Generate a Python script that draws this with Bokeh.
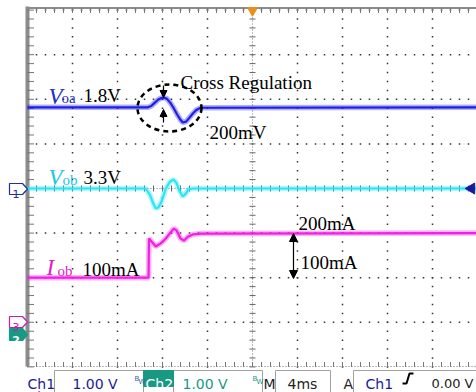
import numpy as np
from bokeh.plotting import figure
from bokeh.models import Label, Arrow, NormalHead, Range1d
from bokeh.embed import file_html
from bokeh.resources import INLINE

# ---------------- data (time in ms, 4 ms/div; vertical in divisions) ----------------
t_voa = [-20, -9.3, -9.0, -8.7, -8.4, -8.1, -7.9, -7.6, -7.3, -7.0, -6.7, -6.4, -6.2,
         -5.9, -5.6, -5.3, -5.0, -4.6, 19.9]
voa_div = [1.82, 1.82, 1.85, 1.92, 1.99, 2.03, 2.04, 2.01, 1.92, 1.80, 1.66, 1.54, 1.48,
           1.50, 1.59, 1.68, 1.76, 1.81, 1.82]

t_vob = [-20, -9.5, -9.1, -8.8, -8.6, -8.35, -8.1, -7.7, -7.35, -7.0, -6.75, -6.5, -6.2,
         -5.95, -5.7, -5.3, 19.9]
vob_div = [0, 0, -0.15, -0.35, -0.45, -0.42, -0.30, 0.0, 0.15, 0.20, 0.12, -0.05, -0.18,
           -0.12, -0.02, 0, 0]

t_iob = [-20, -9.24, -9.2, -8.6, -8.15, -7.7, -7.3, -7.0, -6.75, -6.4, -6.1, -5.75, -5.3,
         -4.6, 19.9]
iob_ma = [100, 100, 188, 170, 177, 188, 201, 210, 206, 188, 183, 192, 197, 199, 200]

CH3_OFFSET_DIV = -3.0
CH3_MA_PER_DIV = 100.0
iob_div = [CH3_OFFSET_DIV + v / CH3_MA_PER_DIV for v in iob_ma]

# ---------------- layout helpers (picture pixel -> data) ----------------
def X(px):
    return (px - 252) / 11.25

def Y(py):
    return (188 - py) / 44.6

W, H = 476, 392
p = figure(width=W, height=H, output_backend="svg", toolbar_location=None,
           x_range=Range1d(X(0), X(W)), y_range=Range1d(Y(H), Y(0)),
           min_border=0)
p.axis.visible = False
p.grid.visible = False
p.outline_line_color = None
p.background_fill_color = "white"

SERIF = "Liberation Serif"
SANS = "DejaVu Sans"

# ---------------- graticule ----------------
vx = np.arange(-16, 17, 4)
vx = vx[vx != 0]
vy = np.arange(-4, 4.001, 0.2)
gx, gy = np.meshgrid(vx, vy)
p.scatter(gx.ravel(), gy.ravel(), marker="square", size=1.5, fill_color="#333333", line_color=None)
hy = np.array([-3, -2, -1, 1, 2, 3, 4])
hx = np.arange(-20, 20.01, 0.8)
gx2, gy2 = np.meshgrid(hx, hy)
p.scatter(gx2.ravel(), gy2.ravel(), marker="square", size=1.5, fill_color="#333333", line_color=None)

# centre lines with ticks
p.segment(x0=[0], y0=[Y(366)], x1=[0], y1=[Y(8)], line_color="#777777", line_width=1, line_dash="1 2")
p.segment(x0=[X(27)], y0=[0], x1=[X(476)], y1=[0], line_color="#777777", line_width=1, line_dash="1 2")
p.scatter([0] * len(vy), vy, marker="dash", size=6, line_color="#666666", line_width=1)
p.scatter(hx, [0] * len(hx), marker="dash", size=6, angle=np.pi / 2, line_color="#666666", line_width=1)

# borders with ticks
p.segment(x0=[X(27)], y0=[Y(7.5)], x1=[X(476)], y1=[Y(7.5)], line_color="#8c8c8c", line_width=2)
p.scatter(hx, [Y(10)] * len(hx), marker="dash", size=5, angle=np.pi / 2, line_color="#777777")
p.segment(x0=[X(27)], y0=[Y(366)], x1=[X(476)], y1=[Y(366)], line_color="#777777", line_width=1, line_dash="1 2")
p.scatter(hx, [Y(364)] * len(hx), marker="dash", size=5, angle=np.pi / 2, line_color="#777777")
p.segment(x0=[X(27)], y0=[Y(366)], x1=[X(27)], y1=[Y(6)], line_color="#8c8c8c", line_width=4)
p.scatter([X(30)] * len(vy), vy, marker="dash", size=7, line_color="#777777")

# ---------------- traces ----------------
traces = [(t_voa, voa_div, "#1e1ee6"), (t_vob, vob_div, "#2ee4f2"), (t_iob, iob_div, "#f020e2")]
for tx, ty, col in traces:
    p.line(tx, ty, line_color=col, line_width=5.5, line_alpha=0.35)
    p.line(tx, ty, line_color=col, line_width=2.2)

# trigger marker and Ch1 level marker
p.scatter([0], [Y(10)], marker="inverted_triangle", size=10, fill_color="#e8901c", line_color="#e8901c")
p.scatter([X(471)], [Y(188)], marker="triangle", angle=np.pi / 2, size=11,
          fill_color="#1a1a9a", line_color="#1a1a9a")

# channel ground markers
def pent(y0, y1):
    ym = (y0 + y1) / 2
    xs = [X(9), X(22), X(27), X(22), X(9)]
    ys = [Y(y0), Y(y0), Y(ym), Y(y1), Y(y1)]
    return xs, ys

xs, ys = pent(183, 194)
p.patch(xs, ys, fill_color="white", line_color="#2030a0", line_width=1.2)
p.add_layout(Label(x=X(15.5), y=Y(193), text="1", text_font=SANS, text_font_size="11px",
                   text_color="#2030a0", text_align="center", text_baseline="alphabetic"))
xs, ys = pent(316, 327)
p.patch(xs, ys, fill_color="white", line_color="#c020b0", line_width=1.2)
p.add_layout(Label(x=X(15.5), y=Y(326), text="3", text_font=SANS, text_font_size="11px",
                   text_color="#c020b0", text_align="center", text_baseline="alphabetic"))
xs, ys = pent(328, 340)
p.patch(xs, ys, fill_color="#189a82", line_color="#189a82", line_width=1.2)
p.add_layout(Label(x=X(15.5), y=Y(339), text="2", text_font=SANS, text_font_size="11px",
                   text_color="white", text_align="center", text_baseline="alphabetic",
                   text_font_style="bold"))

# ---------------- annotations ----------------
p.ellipse(x=[X(169)], y=[Y(107.5)], width=[64 / 11.25], height=[47 / 44.6],
          fill_color=None, line_color="black", line_width=2.5, line_dash="5 4")
p.add_layout(Arrow(end=NormalHead(size=7, fill_color="black", line_color="black"),
                   x_start=X(163), y_start=Y(85), x_end=X(163), y_end=Y(97),
                   line_color="black", line_width=1.2))
p.add_layout(Arrow(end=NormalHead(size=7, fill_color="black", line_color="black"),
                   x_start=X(163), y_start=Y(122), x_end=X(163), y_end=Y(109),
                   line_color="black", line_width=1.2))
p.add_layout(Arrow(start=NormalHead(size=8, fill_color="black", line_color="black"),
                   end=NormalHead(size=8, fill_color="black", line_color="black"),
                   x_start=X(293), y_start=Y(233), x_end=X(293), y_end=Y(278),
                   line_color="black", line_width=1.2))

def lab(px, py, text, size="19px", color="black", style="normal", font=SERIF):
    p.add_layout(Label(x=X(px), y=Y(py), text=text, text_font=font, text_font_size=size,
                       text_color=color, text_font_style=style, text_baseline="alphabetic"))

lab(180, 82, "Cross Regulation")
lab(209, 132, "200mV")
lab(48, 96, "V", size="23px", color="#2030c8", style="italic")
lab(61, 97, "oa", size="15px", color="#2030c8")
lab(83, 95, "1.8V")
lab(48, 177, "V", size="23px", color="#22c4ea", style="italic")
lab(62, 179, "ob", size="15px", color="#22c4ea")
lab(83, 177, "3.3V")
lab(46, 267, "I", size="23px", color="#e020c4", style="italic")
lab(57, 270, "ob", size="15px", color="#e020c4")
lab(82, 269, "100mA")
lab(298, 223, "200mA")
lab(300, 262, "100mA")

# ---------------- bottom status bar ----------------
boxes = [(54, 143), (173, 262), (275, 330), (353, 480)]
p.quad(left=[X(a) for a, b in boxes], right=[X(b) for a, b in boxes],
       top=[Y(370)] * 4, bottom=[Y(395)] * 4, fill_color="white", line_color="#a0a0a0", line_width=1)
p.quad(left=[X(143)], right=[X(173)], top=[Y(370)], bottom=[Y(386)],
       fill_color="#189a82", line_color="#189a82")

lab(27, 383, "Ch1", size="14px", color="#1a1aa0", font=SANS)
lab(72, 383, "1.00 V", size="14px", color="#1a1aa0", font=SANS)
lab(134, 378, "B", size="7px", color="#4060a0", font=SANS)
lab(138, 381, "W", size="7px", color="#4060a0", font=SANS)
lab(145, 383, "Ch2", size="14px", color="white", font=SANS)
lab(182, 383, "1.00 V", size="14px", color="#189a82", font=SANS)
lab(252, 378, "B", size="7px", color="#189a82", font=SANS)
lab(256, 381, "W", size="7px", color="#189a82", font=SANS)
lab(263, 383, "M", size="14px", color="#222222", font=SANS)
lab(287, 383, "4ms", size="14px", color="#222222", font=SANS)
lab(343, 383, "A", size="14px", color="#222222", font=SANS)
lab(365, 383, "Ch1", size="14px", color="#1a1aa0", font=SANS)
p.line([X(402), X(406), X(409), X(413)], [Y(383), Y(383), Y(373), Y(373)],
       line_color="black", line_width=2)
lab(431, 383, "0.00 V", size="13px", color="#222222", font=SANS)
lab(27, 396, "Ch3", size="14px", color="#c020b0", font=SANS)
lab(72, 396, "100mA \u03a9", size="14px", color="#c020b0", font=SANS)

open("out.html", "w").write(file_html(p, INLINE))
